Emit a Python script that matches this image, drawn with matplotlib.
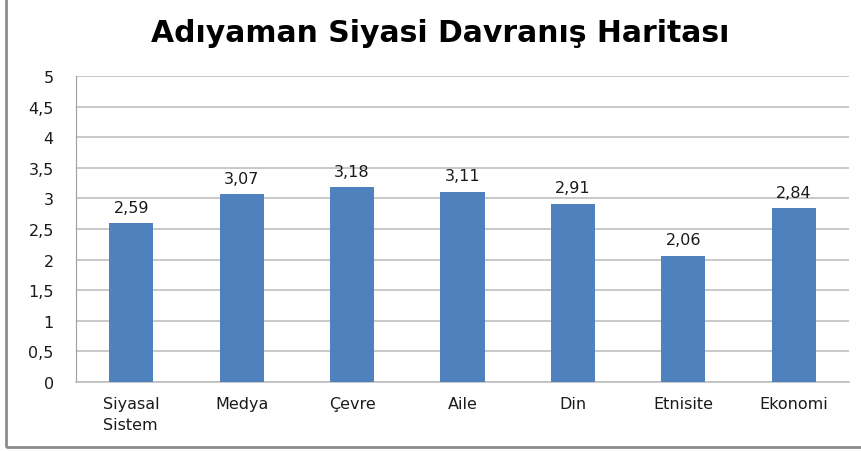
import matplotlib
matplotlib.use('Agg')
import matplotlib.pyplot as plt
from matplotlib.patches import Rectangle

categories = ['Siyasal\nSistem', 'Medya', 'Çevre', 'Aile', 'Din', 'Etnisite', 'Ekonomi']
values = [2.59, 3.07, 3.18, 3.11, 2.91, 2.06, 2.84]
yticks = [0, 0.5, 1, 1.5, 2, 2.5, 3, 3.5, 4, 4.5, 5]

fig = plt.figure(figsize=(8.62, 4.52), dpi=100)
ax = fig.add_axes([76/862, 1-383/452, 773/862, 306/452])

x = range(len(categories))
ax.bar(x, values, width=0.4, color='#4F81BD', zorder=3)
for i, v in enumerate(values):
    ax.text(i, v + 0.14, f'{v:.2f}'.replace('.', ','), ha='center', va='bottom',
            fontsize=11.5, color='#1a1a1a')

ax.set_xlim(-0.5, len(categories) - 0.5)
ax.set_ylim(0, 5)
ax.set_yticks(yticks)
ax.set_yticklabels([str(t).replace('.0', '').replace('.', ',') for t in yticks],
                   fontsize=11.5, color='#1a1a1a')
ax.set_xticks(list(x))
ax.set_xticklabels(categories, fontsize=11.5, color='#1a1a1a', ha='center',
                   linespacing=1.55)
ax.tick_params(axis='y', length=0, pad=16)
ax.tick_params(axis='x', length=0, pad=10)
for lab in ax.get_xticklabels():
    lab.set_multialignment('left')
ax.grid(axis='y', color='#BFBFBF', linewidth=1.2, zorder=0)
for s in ['top', 'right']:
    ax.spines[s].set_visible(False)
ax.spines['left'].set_color('#A0A0A0')
ax.spines['bottom'].set_color('#BFBFBF')
ax.spines['bottom'].set_linewidth(1.2)

fig.text(440/862, 1-42/452, 'Adıyaman Siyasi Davranış Haritası', ha='center', va='baseline',
         fontsize=21.5, fontweight='bold', family='DejaVu Sans', color='black')

fig.patches.append(Rectangle((6/862, 4/452), 1.1, 1.05, transform=fig.transFigure,
                             fill=False, edgecolor='#8C8C8C', linewidth=2))

fig.savefig('out.png', dpi=100)
